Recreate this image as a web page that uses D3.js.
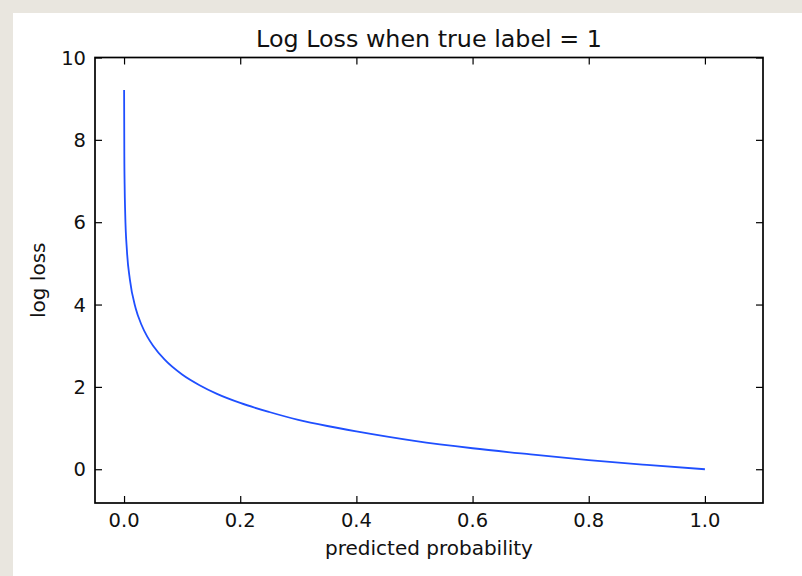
<!DOCTYPE html>
<html>
<head>
<meta charset="utf-8">
<script src="https://cdn.jsdelivr.net/npm/d3@7"></script>
<style>
  html, body { margin: 0; padding: 0; background: #e9e6df; }
  svg { display: block; }
  text { font-family: "DejaVu Sans", sans-serif; fill: #111; }
</style>
</head>
<body>
<svg id="chart"></svg>
<script>
// values
const probability = [0.0001, 0.0005, 0.001, 0.002, 0.005, 0.01, 0.02, 0.03, 0.04, 0.05, 0.07, 0.1,
  0.13, 0.16, 0.2, 0.25, 0.3, 0.35, 0.4, 0.5, 0.6, 0.7, 0.8, 0.9, 1.0];
const logLoss = [9.21, 7.6, 6.91, 6.21, 5.3, 4.61, 3.91, 3.51, 3.22, 3.0, 2.66, 2.3,
  2.04, 1.83, 1.61, 1.39, 1.2, 1.05, 0.92, 0.69, 0.51, 0.36, 0.22, 0.105, 0.0];
const xTicks = [0.0, 0.2, 0.4, 0.6, 0.8, 1.0];
const yTicks = [0, 2, 4, 6, 8, 10];

document.addEventListener('DOMContentLoaded', function () {
    const width = 802, height = 576;
    const svg = d3.select('#chart').attr('width', width).attr('height', height);

    // white page area
    svg.append('rect')
        .attr('x', 13).attr('y', 13)
        .attr('width', width - 13).attr('height', height - 13)
        .attr('fill', '#ffffff');

    const left = 95, right = 763, top = 57.5, bottom = 503;

    const x = d3.scaleLinear().domain([-0.05, 1.1]).range([left, right]);
    const y = d3.scaleLinear().domain([-0.82, 10]).range([bottom, top]);

    const tickLen = 7;

    // inward ticks on all four sides
    svg.append('g')
        .attr('transform', `translate(0,${bottom})`)
        .call(d3.axisTop(x).tickValues(xTicks).tickSize(tickLen).tickFormat(''))
        .call(g => g.select('.domain').remove());
    svg.append('g')
        .attr('transform', `translate(0,${top})`)
        .call(d3.axisBottom(x).tickValues(xTicks).tickSize(tickLen).tickFormat(''))
        .call(g => g.select('.domain').remove());
    svg.append('g')
        .attr('transform', `translate(${left},0)`)
        .call(d3.axisRight(y).tickValues(yTicks).tickSize(tickLen).tickFormat(''))
        .call(g => g.select('.domain').remove());
    svg.append('g')
        .attr('transform', `translate(${right},0)`)
        .call(d3.axisLeft(y).tickValues(yTicks).tickSize(tickLen).tickFormat(''))
        .call(g => g.select('.domain').remove());
    svg.selectAll('.tick line').attr('stroke', '#000').attr('stroke-width', 1.2);

    // tick labels
    svg.append('g').selectAll('text')
        .data(xTicks)
        .enter()
        .append('text')
        .attr('x', d => x(d))
        .attr('y', bottom + 24)
        .attr('text-anchor', 'middle')
        .style('font-size', '19.5px')
        .text(d => d.toFixed(1));

    svg.append('g').selectAll('text')
        .data(yTicks)
        .enter()
        .append('text')
        .attr('x', left - 9)
        .attr('y', d => y(d) + 7)
        .attr('text-anchor', 'end')
        .style('font-size', '19.5px')
        .text(d => d);

    // curve
    const line = d3.line()
        .x(d => x(d[0]))
        .y(d => y(d[1]))
        .curve(d3.curveMonotoneX);

    svg.append('path')
        .datum(probability.map((p, i) => [p, logLoss[i]]))
        .attr('d', line)
        .attr('fill', 'none')
        .attr('stroke', '#1f4fff')
        .attr('stroke-width', 1.8);

    // frame
    svg.append('rect')
        .attr('x', left).attr('y', top)
        .attr('width', right - left).attr('height', bottom - top)
        .attr('fill', 'none')
        .attr('stroke', '#000')
        .attr('stroke-width', 1.7);

    // title and axis labels
    svg.append('text')
        .attr('x', (left + right) / 2)
        .attr('y', 47)
        .attr('text-anchor', 'middle')
        .style('font-size', '23.8px')
        .text('Log Loss when true label = 1');

    svg.append('text')
        .attr('x', (left + right) / 2)
        .attr('y', 555)
        .attr('text-anchor', 'middle')
        .style('font-size', '20px')
        .text('predicted probability');

    svg.append('text')
        .attr('transform', `translate(45,${(top + bottom) / 2}) rotate(-90)`)
        .attr('text-anchor', 'middle')
        .style('font-size', '20px')
        .text('log loss');
});
</script>
</body>
</html>
